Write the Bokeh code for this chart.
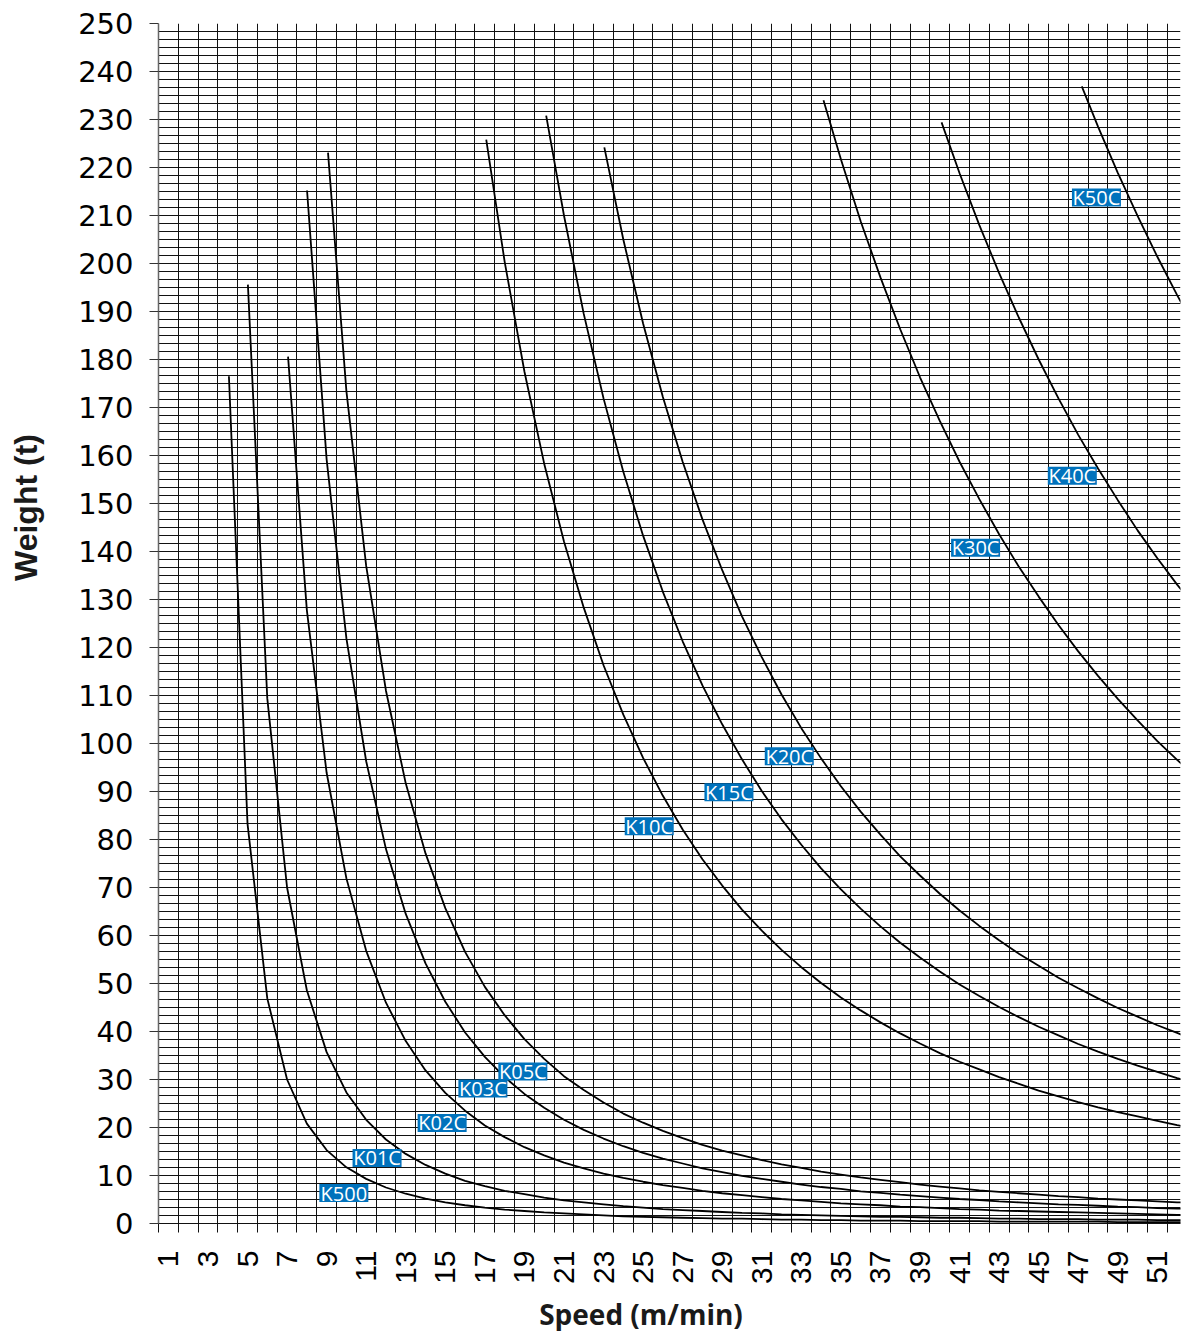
import math
from bokeh.plotting import figure
from bokeh.layouts import row, column
from bokeh.models import FixedTicker, ColumnDataSource
from bokeh.core.properties import value
from bokeh.embed import file_html
from bokeh.resources import INLINE

# ---------------- data (speed in m/min, weight in t) ----------------
k500_speed = [4.06] + list(range(5, 54))
k500_weight = [176.5, 83.3, 46.9, 30.0, 20.8, 15.3, 11.7, 9.3, 7.5, 6.2, 5.2, 4.4, 3.8, 3.3, 2.9, 2.6,
               2.3, 2.1, 1.9, 1.7, 1.5, 1.4, 1.3, 1.2, 1.1, 1.0, 1.0, 0.9, 0.8, 0.8, 0.7, 0.7, 0.6, 0.6,
               0.6, 0.5, 0.5, 0.5, 0.5, 0.4, 0.4, 0.4, 0.4, 0.4, 0.4, 0.3, 0.3, 0.3, 0.3, 0.3]

k01c_speed = [5.02] + list(range(6, 54))
k01c_weight = [195.6, 109.4, 70.0, 48.6, 35.7, 27.3, 21.6, 17.5, 14.5, 12.2, 10.4, 8.9, 7.8, 6.8, 6.1,
               5.4, 4.8, 4.4, 4.0, 3.6, 3.3, 3.0, 2.8, 2.6, 2.4, 2.2, 2.1, 1.9, 1.8, 1.7, 1.6, 1.5, 1.4,
               1.4, 1.3, 1.2, 1.2, 1.1, 1.0, 1.0, 0.9, 0.9, 0.9, 0.8, 0.8, 0.8, 0.7, 0.7, 0.7]

k02c_speed = [7.05] + list(range(8, 54))
k02c_weight = [180.6, 127.8, 93.9, 71.9, 56.8, 46.0, 38.0, 31.9, 27.2, 23.5, 20.4, 18.0, 15.9, 14.2,
               12.7, 11.5, 10.4, 9.5, 8.7, 8.0, 7.4, 6.8, 6.3, 5.9, 5.5, 5.1, 4.8, 4.5, 4.2, 4.0, 3.8,
               3.5, 3.4, 3.2, 3.0, 2.9, 2.7, 2.6, 2.5, 2.4, 2.3, 2.2, 2.1, 2.0, 1.9, 1.8, 1.8]

k03c_speed = [8.01] + list(range(9, 54))
k03c_weight = [215.2, 159.2, 121.9, 96.3, 78.0, 64.5, 54.2, 46.2, 39.8, 34.7, 30.5, 27.0, 24.1, 21.6,
               19.5, 17.7, 16.1, 14.7, 13.5, 12.5, 11.5, 10.7, 9.9, 9.3, 8.7, 8.1, 7.6, 7.2, 6.7, 6.4,
               6.0, 5.7, 5.4, 5.1, 4.9, 4.6, 4.4, 4.2, 4.0, 3.9, 3.7, 3.5, 3.4, 3.2, 3.1, 3.0]

k05c_speed = [9.07] + list(range(10, 54))
k05c_weight = [223.1, 173.4, 137.0, 111.0, 91.7, 77.1, 65.7, 56.6, 49.3, 43.4, 38.4, 34.3, 30.7, 27.8,
               25.2, 22.9, 21.0, 19.3, 17.8, 16.4, 15.2, 14.2, 13.2, 12.3, 11.6, 10.8, 10.2, 9.6, 9.1,
               8.6, 8.1, 7.7, 7.3, 6.9, 6.6, 6.3, 6.0, 5.7, 5.5, 5.2, 5.0, 4.8, 4.6, 4.4, 4.3]

k10c_speed = [17.07] + list(range(18, 54))
k10c_weight = [225.8, 200.4, 177.5, 158.3, 142.1, 128.3, 116.3, 106.0, 97.0, 89.1, 82.1, 75.9, 70.4,
               65.4, 61.0, 57.0, 53.4, 50.1, 47.1, 44.4, 41.9, 39.6, 37.5, 35.5, 33.7, 32.1, 30.5,
               29.1, 27.7, 26.5, 25.3, 24.2, 23.2, 22.3, 21.4, 20.5, 19.7]

k15c_speed = [20.1] + list(range(21, 54))
k15c_weight = [230.8, 210.0, 189.5, 171.9, 156.6, 143.3, 131.6, 121.3, 112.1, 104.0, 96.7, 90.1, 84.2,
               78.9, 74.0, 69.6, 65.6, 61.9, 58.5, 55.4, 52.5, 49.8, 47.4, 45.1, 43.0, 41.0, 39.2,
               37.4, 35.8, 34.3, 32.9, 31.6, 30.3, 29.1]

k20c_speed = [23.04] + list(range(24, 54))
k20c_weight = [224.2, 205.0, 187.5, 172.2, 158.7, 146.7, 136.1, 126.5, 118.0, 110.2, 103.2, 96.9, 91.1,
               85.8, 81.0, 76.5, 72.5, 68.7, 65.2, 62.0, 59.0, 56.2, 53.7, 51.2, 49.0, 46.9, 44.9,
               43.1, 41.3, 39.7, 38.1]

k30c_speed = [34.12] + list(range(35, 54))
k30c_weight = [234.0, 221.7, 208.8, 197.1, 186.3, 176.3, 167.2, 158.7, 150.9, 143.6, 136.8, 130.6,
               124.7, 119.2, 114.1, 109.3, 104.8, 100.5, 96.6, 92.8]

k40c_speed = [40.09] + list(range(41, 54))
k40c_weight = [229.4, 218.8, 208.0, 198.0, 188.7, 180.0, 171.9, 164.3, 157.3, 150.7, 144.4, 138.6,
               133.1, 128.0]

k50c_speed = [47.18] + list(range(48, 54))
k50c_weight = [236.9, 228.5, 218.9, 209.9, 201.4, 193.4, 185.9]

series_names = ["K500", "K01C", "K02C", "K03C", "K05C", "K10C", "K15C", "K20C", "K30C", "K40C", "K50C"]
series_speed = [k500_speed, k01c_speed, k02c_speed, k03c_speed, k05c_speed, k10c_speed,
                k15c_speed, k20c_speed, k30c_speed, k40c_speed, k50c_speed]
series_weight = [k500_weight, k01c_weight, k02c_weight, k03c_weight, k05c_weight, k10c_weight,
                 k15c_weight, k20c_weight, k30c_weight, k40c_weight, k50c_weight]

speed_tick_labels = list(range(1, 52, 2))
weight_ticks = list(range(0, 251, 10))

# label anchor positions (data coordinates)
label_speed = [9.87, 11.55, 14.84, 16.90, 18.92, 25.31, 29.34, 32.39, 41.81, 46.70, 47.92]
label_weight = [6.35, 13.65, 20.94, 28.1, 31.67, 82.75, 89.83, 97.33, 140.8, 155.8, 213.75]

y_title = "Weight (t)"
x_title = "Speed (m/min)"

# ---------------- main figure ----------------
p = figure(frame_width=1022, frame_height=1200, x_range=(0.5, 52.17), y_range=(0, 250),
           output_backend="svg", toolbar_location=None,
           min_border_left=100, min_border_right=1, min_border_top=23, min_border_bottom=60)
p.outline_line_color = None
p.background_fill_color = "white"

# grid
p.xgrid.ticker = FixedTicker(ticks=[i + 0.5 for i in range(0, 52)])
p.ygrid.ticker = FixedTicker(ticks=[i * 10 / 6 for i in range(0, 151)])
for g in (p.xgrid, p.ygrid):
    g.grid_line_color = "#111111"
    g.grid_line_width = 1
    g.grid_line_alpha = 1.0

# x axis
xa = p.xaxis[0]
xa.ticker = FixedTicker(ticks=speed_tick_labels, minor_ticks=[i + 0.5 for i in range(0, 52)])
xa.major_tick_line_color = None
xa.major_tick_out = 9
xa.major_tick_in = 0
xa.minor_tick_out = 9
xa.minor_tick_in = 0
xa.minor_tick_line_color = "#111111"
xa.axis_line_color = "#111111"
xa.major_label_orientation = math.pi / 2
xa.major_label_standoff = 18
xa.major_label_text_font = "Liberation Sans"
xa.major_label_text_font_size = "30px"
xa.major_label_text_color = "black"

# y axis
ya = p.yaxis[0]
ya.ticker = FixedTicker(ticks=weight_ticks)
ya.major_tick_out = 9
ya.major_tick_in = 0
ya.major_tick_line_color = "#333333"
ya.minor_tick_line_color = None
ya.axis_line_color = "#666666"
ya.axis_line_width = 1.5
ya.major_label_standoff = 16
ya.major_label_text_font = "DejaVu Sans"
ya.major_label_text_font_size = "29px"
ya.major_label_text_color = "black"

# curves
for xs, ys in zip(series_speed, series_weight):
    p.line(xs, ys, line_color="black", line_width=1.8)

# curve labels
src = ColumnDataSource(dict(x=label_speed, y=label_weight, t=series_names))
p.rect("x", "y", width=49, height=18, width_units="screen", height_units="screen",
       source=src, fill_color="#0072BC", line_color=None)
p.text("x", "y", text="t", source=src, text_font=value("Open Sans"), text_font_size="20px",
       text_color="white", text_align="center", text_baseline="middle")

# ---------------- title strips (page-pixel coordinates) ----------------
def strip(w, h, xr, yr, left=0, right=0):
    f = figure(frame_width=w, frame_height=h, x_range=xr, y_range=yr,
               output_backend="svg", toolbar_location=None,
               x_axis_location=None, y_axis_location=None,
               min_border_left=left, min_border_right=right, min_border_top=0, min_border_bottom=0)
    f.grid.visible = False
    f.outline_line_color = None
    f.background_fill_color = "white"
    return f

left_strip = strip(58, 1331, (0, 58), (1331, 0))
left_strip.text(x=[25], y=[507], text=[y_title], angle=math.pi / 2,
                text_font=value("Liberation Sans"), text_font_style="bold", text_font_size="32px",
                text_align="center", text_baseline="middle", text_color="#1a1a1a")

# bottom strip shares the main frame's left/right borders so its frame spans x = 158..1180
bottom_strip = strip(1022, 48, (158, 1180), (1331, 1283), left=100, right=1)
bottom_strip.text(x=[640.5], y=[1310], text=[x_title],
                  text_font=value("Open Sans"), text_font_style="bold", text_font_size="28px",
                  text_align="center", text_baseline="middle", text_color="#1a1a1a")

layout = row(left_strip, column(p, bottom_strip, spacing=0), spacing=0)

open("out.html", "w").write(file_html(layout, INLINE))
